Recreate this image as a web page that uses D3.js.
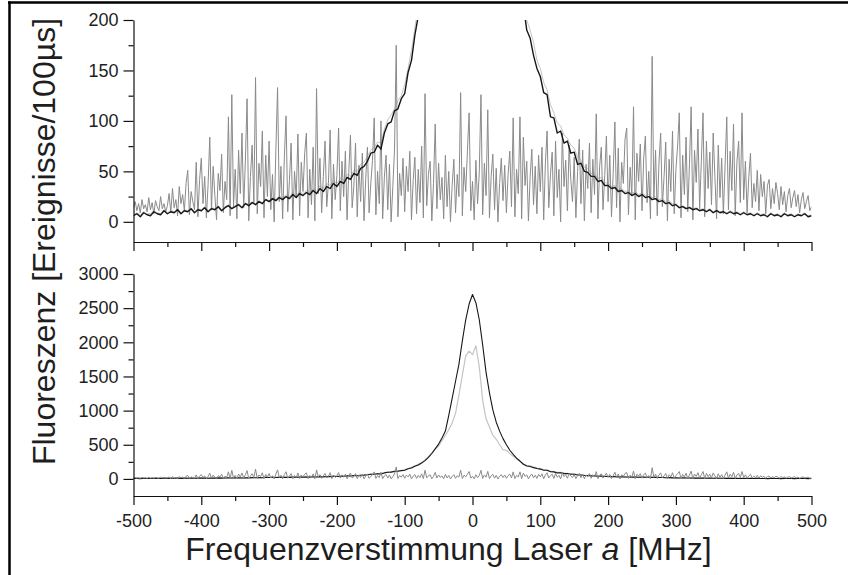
<!DOCTYPE html>
<html>
<head>
<meta charset="utf-8">
<script src="https://cdn.jsdelivr.net/npm/d3@7"></script>
<style>
  body { margin: 0; background: #fff; }
  svg { display: block; }
  text { font-family: "Liberation Sans", Arial, Helvetica, sans-serif; fill: #1e1e1e; }
</style>
</head>
<body>
<svg id="chart" width="848" height="575"></svg>
<script>
// Detuning axis (MHz)
const xTickValues = [-500, -400, -300, -200, -100, 0, 100, 200, 300, 400, 500];
const xMinorTicks = [-450, -350, -250, -150, -50, 50, 150, 250, 350, 450];
const topYTicks = [0, 50, 100, 150, 200];
const topYMinor = [25, 75, 125, 175];
const bottomYTicks = [0, 500, 1000, 1500, 2000, 2500, 3000];
const bottomYMinor = [250, 750, 1250, 1750, 2250, 2750];
const xTitle = ["Frequenzverstimmung Laser ", "a", " [MHz]"];
const yTitle = "Fluoreszenz [Ereignisse/100µs]";

// Scan grids: noise trace every 2.5 MHz, resonance traces every 5 MHz
const noiseStart = -500, noiseStep = 2.5;
const resStart = -500, resStep = 5;

// Off-resonant trace (counts / 100 µs)
const noiseCounts = [
  14,20,11,18,9,22,13,17,10,24,12,19,8,21,15,11,25,13,18,10,
  16,28,9,33,14,22,6,35,18,27,11,38,51,7,30,20,12,59,5,42,
  63,18,45,4,37,84,12,55,26,2,48,31,67,9,40,22,104,6,126,15,
  52,3,71,28,88,14,60,122,1,45,76,19,143,8,58,35,90,4,66,25,
  80,12,47,0,72,133,20,55,3,64,105,10,41,78,2,50,24,87,6,59,
  30,68,88,4,52,17,74,1,132,28,63,9,45,80,15,38,91,3,57,22,
  46,93,11,60,25,70,2,49,86,14,35,78,5,56,20,68,1,42,74,9,
  38,61,103,7,50,18,100,3,44,66,12,57,0,35,72,175,5,48,26,63,
  10,55,30,70,2,41,64,8,52,19,75,4,127,16,47,60,1,38,97,13,
  58,22,44,3,66,15,50,0,36,62,9,47,25,128,6,54,30,70,108,11,
  40,2,61,18,49,126,7,58,26,111,4,45,67,12,53,0,38,63,21,56,
  9,47,70,15,103,5,52,28,104,3,84,36,60,1,44,72,17,55,8,66,
  30,74,2,58,90,14,47,69,6,80,24,52,0,88,35,61,11,76,42,20,
  64,4,50,82,18,71,1,57,33,78,9,62,27,107,3,55,74,12,46,85,
  20,66,5,48,99,14,73,0,59,38,82,93,7,54,26,114,2,68,40,77,
  11,63,85,19,50,3,164,22,71,6,58,88,15,44,79,1,62,30,90,8,
  52,75,108,4,66,27,84,10,57,114,2,71,39,92,13,60,108,5,80,33,
  69,17,88,45,3,76,24,63,8,55,104,12,70,31,97,6,59,80,19,108,
  22,60,9,44,68,14,38,20,51,11,47,25,40,8,36,42,13,33,18,39,
  28,12,35,17,30,10,26,33,14,24,31,15,27,9,22,29,13,20,26,11,
  15
];

// Resonant fluorescence, full signal
const resonanceCounts = [
  6,8,5,9,7,6,10,8,7,11,
  8,10,9,12,8,11,10,13,9,12,
  11,14,10,13,12,15,11,14,16,13,
  15,17,14,18,16,19,17,20,18,22,
  20,23,21,24,22,25,23,27,24,28,
  26,29,27,31,28,33,30,35,33,38,
  35,40,38,44,42,48,46,53,55,60,
  68,69,76,72,88,97,99,110,112,122,
  127,148,160,185,204,232,268,315,372,440,
  510,600,700,930,1180,1430,1680,2020,2330,2560,
  2700,2580,2330,1960,1560,1260,1010,830,700,590,
  500,420,360,305,262,215,190,182,165,152,
  144,128,126,104,103,88,90,78,80,68,
  69,57,58,50,49,45,45,40,41,36,
  36,33,34,30,31,28,29,26,28,25,
  27,24,25,22,23,20,21,18,19,16,
  17,14,15,13,14,12,13,11,12,10,
  12,9,11,9,10,8,10,8,9,7,
  9,7,8,6,8,6,7,5,8,6,
  7,5,8,6,7,5,7,6,8,5,
  6
];

// Resonant fluorescence, reduced signal
const reducedCounts = [
  7,9,7,10,8,8,11,9,8,12,
  9,11,10,13,9,12,11,14,10,13,
  12,15,11,14,13,16,12,15,17,14,
  16,18,15,19,17,20,18,21,19,23,
  21,24,22,26,23,27,25,29,26,30,
  28,31,29,33,30,36,33,38,36,41,
  38,43,41,47,45,51,50,57,59,65,
  71,74,79,78,92,101,106,112,120,125,
  136,152,170,192,214,245,282,325,380,440,
  480,560,640,720,820,960,1230,1520,1800,1870,
  1820,1950,1640,1150,880,760,640,580,500,430,
  420,370,330,290,260,222,200,190,178,160,
  152,138,131,116,108,98,95,86,83,76,
  73,64,61,54,53,48,48,43,44,39,
  38,35,36,32,33,30,31,28,30,27,
  29,26,27,24,25,22,23,20,21,18,
  18,15,16,14,15,13,14,12,13,11,
  13,10,12,10,11,9,11,9,10,8,
  10,8,9,7,9,7,8,6,9,7,
  8,6,9,7,8,6,8,7,9,6,
  7
];

const noiseData = noiseCounts.map((v, i) => ({ f: noiseStart + i * noiseStep, v }));
const resData = resonanceCounts.map((v, i) => ({ f: resStart + i * resStep, v }));
const redData = reducedCounts.map((v, i) => ({ f: resStart + i * resStep, v }));

const svg = d3.select("#chart");

// figure frame (top and left edges)
svg.append("line").attr("x1", 8).attr("x2", 848).attr("y1", 2.5).attr("y2", 2.5)
  .attr("stroke", "#000").attr("stroke-width", 2.5);
svg.append("line").attr("x1", 9.5).attr("x2", 9.5).attr("y1", 1.5).attr("y2", 575)
  .attr("stroke", "#000").attr("stroke-width", 2.5);

const x = d3.scaleLinear().domain([-500, 500]).range([133.5, 811.5]);
const yTop = d3.scaleLinear().domain([-20, 200]).range([242, 20]);
const yBot = d3.scaleLinear().domain([-250, 3000]).range([496, 274]);

const defs = svg.append("defs");
function clip(id, y0, y1) {
  defs.append("clipPath").attr("id", id).append("rect")
    .attr("x", x.range()[0]).attr("y", y0)
    .attr("width", x.range()[1] - x.range()[0]).attr("height", y1 - y0);
}
clip("clipTop", 20, 242);
clip("clipBot", 274, 496);

function drawLine(g, data, y, color, width) {
  const line = d3.line().x(d => x(d.f)).y(d => y(d.v));
  g.append("path").datum(data).attr("d", line)
    .attr("fill", "none").attr("stroke", color)
    .attr("stroke-width", width).attr("stroke-linejoin", "round");
}

const cBlack = "#161616", cGray = "#8a8a8a", cLight = "#c4c4c4";

// upper panel: expanded view
const gTop = svg.append("g").attr("clip-path", "url(#clipTop)");
drawLine(gTop, redData, yTop, cLight, 1);
drawLine(gTop, noiseData, yTop, cGray, 1);
drawLine(gTop, resData, yTop, cBlack, 1.4);

// lower panel: full range
const gBot = svg.append("g").attr("clip-path", "url(#clipBot)");
drawLine(gBot, redData, yBot, cLight, 1.2);
drawLine(gBot, resData, yBot, cBlack, 1.1);
drawLine(gBot, noiseData, yBot, cGray, 1);

const plain = d => String(d);

function styleAxis(g) {
  g.attr("font-family", null);
  g.selectAll("path.domain").attr("stroke", "#111").attr("stroke-width", 1.2);
  g.selectAll(".tick line").attr("stroke", "#111").attr("stroke-width", 1.2);
  g.selectAll("text").style("font-size", "18px").attr("fill", "#1e1e1e");
}

function yAxes(y, major, minor) {
  const a = svg.append("g").attr("transform", `translate(${x.range()[0]},0)`)
    .call(d3.axisLeft(y).tickValues(major).tickSize(10).tickSizeOuter(0).tickPadding(5).tickFormat(plain));
  styleAxis(a);
  const m = svg.append("g").attr("transform", `translate(${x.range()[0]},0)`)
    .call(d3.axisLeft(y).tickValues(minor).tickSize(5).tickSizeOuter(0).tickFormat(""));
  m.select("path.domain").remove();
  styleAxis(m);
}
yAxes(yTop, topYTicks, topYMinor);
yAxes(yBot, bottomYTicks, bottomYMinor);

function xAxes(yPos, labels) {
  const a = svg.append("g").attr("transform", `translate(0,${yPos})`)
    .call(d3.axisBottom(x).tickValues(xTickValues).tickSize(9).tickSizeOuter(0).tickPadding(9)
      .tickFormat(labels ? plain : ""));
  styleAxis(a);
  const m = svg.append("g").attr("transform", `translate(0,${yPos})`)
    .call(d3.axisBottom(x).tickValues(xMinorTicks).tickSize(5).tickSizeOuter(0).tickFormat(""));
  m.select("path.domain").remove();
  styleAxis(m);
}
xAxes(242, false);
xAxes(496, true);

// axis titles
const xt = svg.append("text").attr("x", 448.5).attr("y", 560)
  .attr("text-anchor", "middle").style("font-size", "32px");
xt.append("tspan").text(xTitle[0]);
xt.append("tspan").style("font-style", "italic").text(xTitle[1]);
xt.append("tspan").text(xTitle[2]);

svg.append("text").attr("transform", "translate(55,241.5) rotate(-90)")
  .attr("text-anchor", "middle").style("font-size", "32px").text(yTitle);
</script>
</body>
</html>
